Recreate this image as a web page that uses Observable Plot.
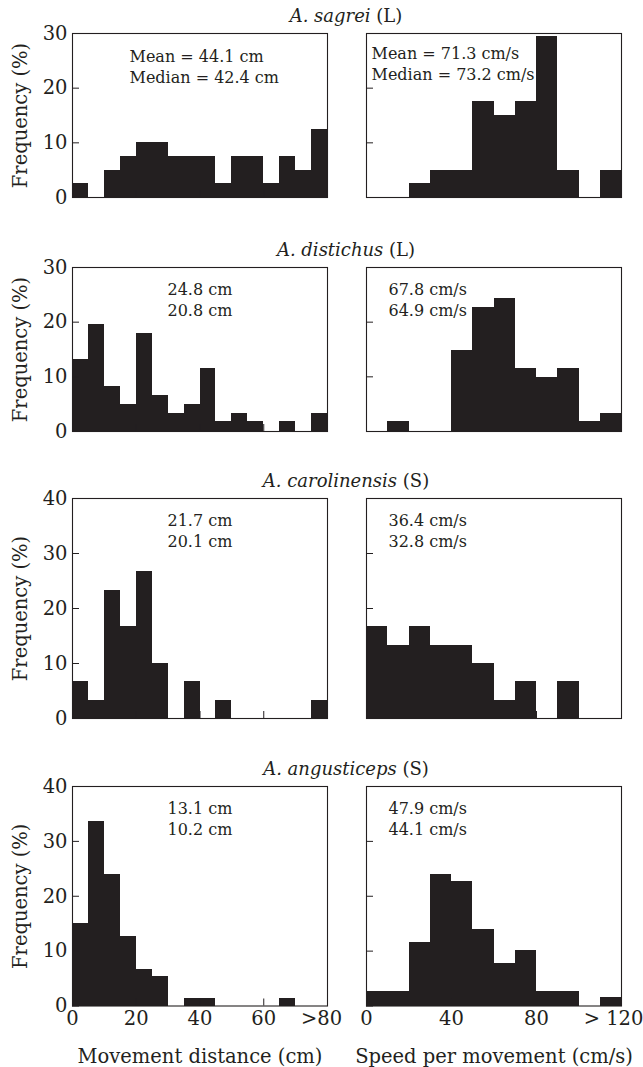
<!DOCTYPE html>
<html>
<head>
<meta charset="utf-8">
<script src="https://cdn.jsdelivr.net/npm/d3@7"></script>
<script src="https://cdn.jsdelivr.net/npm/@observablehq/plot@0.6"></script>
<style>
  body { margin: 0; background: #fff; }
  #chart { position: relative; width: 643px; height: 1067px; font-family: "DejaVu Serif", serif; color: #231f20; overflow: hidden; }
  #chart svg { position: absolute; overflow: visible; }
  .title { position: absolute; left: 0; width: 692px; text-align: center; font-size: 18px; line-height: 18px; white-space: nowrap; }
</style>
</head>
<body>
<div id="chart"></div>
<script>
// ---------- data ----------
const speciesNames = ["A. sagrei", "A. distichus", "A. carolinensis", "A. angusticeps"];
const habitats = ["L", "L", "S", "S"];

// movement distance bins (cm), width 5, last bin = ">75"
const distanceBinStarts = [0, 5, 10, 15, 20, 25, 30, 35, 40, 45, 50, 55, 60, 65, 70, 75];
const distanceBinWidth = 5;
// speed bins (cm/s), width 10
const speedBinStarts = [0, 10, 20, 30, 40, 50, 60, 70, 80, 90, 100, 110];
const speedBinWidth = 10;

// frequencies (%)
const sagreiDistance       = [2.5, 0, 5, 7.5, 10, 10, 7.5, 7.5, 7.5, 2.5, 7.5, 7.5, 2.5, 7.5, 5, 12.5];
const sagreiSpeed          = [0, 0, 2.5, 5, 5, 17.5, 15, 17.5, 29.4, 5, 0, 5];
const distichusDistance    = [13.1, 19.5, 8.2, 4.9, 17.9, 6.6, 3.3, 4.9, 11.5, 1.8, 3.3, 1.8, 0, 1.8, 0, 3.3];
const distichusSpeed       = [0, 1.8, 0, 0, 14.8, 22.7, 24.3, 11.5, 9.9, 11.5, 1.8, 3.3];
const carolinensisDistance = [6.7, 3.3, 23.3, 16.7, 26.7, 10, 0, 6.7, 0, 3.3, 0, 0, 0, 0, 0, 3.3];
const carolinensisSpeed    = [16.7, 13.3, 16.7, 13.3, 13.3, 10, 3.3, 6.7, 0, 6.7, 0, 0];
const angusticepsDistance  = [15.1, 33.7, 23.9, 12.6, 6.6, 5.3, 0, 1.3, 1.3, 0, 0, 0, 0, 1.3, 0, 0];
const angusticepsSpeed     = [2.6, 2.6, 11.5, 23.9, 22.6, 13.9, 7.7, 10.2, 2.6, 2.6, 0, 1.5];

// mean / median annotations
const sagreiDistanceStats       = ["Mean = 44.1 cm", "Median = 42.4 cm"];
const sagreiSpeedStats          = ["Mean = 71.3 cm/s", "Median = 73.2 cm/s"];
const distichusDistanceStats    = ["24.8 cm", "20.8 cm"];
const distichusSpeedStats       = ["67.8 cm/s", "64.9 cm/s"];
const carolinensisDistanceStats = ["21.7 cm", "20.1 cm"];
const carolinensisSpeedStats    = ["36.4 cm/s", "32.8 cm/s"];
const angusticepsDistanceStats  = ["13.1 cm", "10.2 cm"];
const angusticepsSpeedStats     = ["47.9 cm/s", "44.1 cm/s"];

// axes
const yMaxes = [30, 30, 40, 40];
const yTicks30 = [0, 10, 20, 30];
const yTicks40 = [0, 10, 20, 30, 40];
const distanceTicks = [0, 20, 40, 60, 80];
const distanceTickLabels = ["0", "20", "40", "60", ">80"];
const speedTicks = [0, 40, 80, 120];
const speedTickLabels = ["0", "40", "80", "> 120"];
const yTitle = "Frequency (%)";
const distanceTitle = "Movement distance (cm)";
const speedTitle = "Speed per movement (cm/s)";

// ---------- layout ----------
const ink = "#231f20";
const frameTops = [32.7, 266.7, 497.7, 785.7];
const frameHeights = [164, 164, 220, 219.5];

const distanceSeries = [sagreiDistance, distichusDistance, carolinensisDistance, angusticepsDistance];
const speedSeries = [sagreiSpeed, distichusSpeed, carolinensisSpeed, angusticepsSpeed];
const distanceStats = [sagreiDistanceStats, distichusDistanceStats, carolinensisDistanceStats, angusticepsDistanceStats];
const speedStats = [sagreiSpeedStats, distichusSpeedStats, carolinensisSpeedStats, angusticepsSpeedStats];

function makePanel(o) {
  const bins = o.values.map((v, j) => ({x1: o.starts[j], x2: o.starts[j] + o.binWidth, f: v}));
  const fmt = d => o.tickLabels[o.ticks.indexOf(d)];
  const marks = [
    Plot.rectY(bins, {x1: "x1", x2: "x2", y: "f", fill: ink, inset: 0, shapeRendering: "crispEdges"}),
    Plot.frame({stroke: ink, strokeWidth: 1.1}),
    Plot.axisY({
      ticks: o.yTicks, tickSize: -7, tickPadding: 12,
      tickFormat: o.yLabels ? d => String(d) : () => "",
      label: o.yLabels ? yTitle : null, labelAnchor: "center", labelOffset: 59, labelArrow: "none",
      fontSize: 19.5
    }),
    Plot.axisX({
      ticks: o.ticks.slice(0, -1), tickSize: -7, tickPadding: 12,
      tickFormat: o.showX ? fmt : () => "",
      label: o.showX ? o.xTitle : null, labelAnchor: "center", labelOffset: 57, labelArrow: "none",
      fontSize: 19.5
    }),
    Plot.axisX({
      ticks: o.ticks.slice(-1), tickSize: 0, tickPadding: 5, dx: o.lastDx,
      tickFormat: o.showX ? fmt : () => "", label: null, fontSize: 19.5
    }),
    Plot.text([o.stats.join("\n")], {
      text: d => d, frameAnchor: "top-left", textAnchor: "start", lineAnchor: "top",
      dx: o.statsDx, dy: o.statsDy, fontSize: 16, lineHeight: 1.31, fill: ink
    })
  ];
  const svg = Plot.plot({
    width: o.width,
    height: o.mt + o.frameH + o.mb,
    marginLeft: o.ml, marginRight: o.mr, marginTop: o.mt, marginBottom: o.mb,
    style: {fontFamily: "DejaVu Serif, serif", fontSize: "19.5px", color: ink, background: "none", overflow: "visible"},
    x: {domain: o.domain},
    y: {domain: [0, o.yMax]},
    marks
  });
  return svg;
}

const chart = document.getElementById("chart");
speciesNames.forEach((name, i) => {
  const top = frameTops[i];
  const h = frameHeights[i];
  const last = i === speciesNames.length - 1;
  const mt = 14, mb = last ? 62 : 14;
  const yT = yMaxes[i] === 30 ? yTicks30 : yTicks40;

  const t = document.createElement("div");
  t.className = "title";
  t.style.top = (top - 10.5 - 15.2) + "px";
  t.innerHTML = `<i>${name}</i> (${habitats[i]})`;
  chart.appendChild(t);

  const left = makePanel({
    values: distanceSeries[i], starts: distanceBinStarts, binWidth: distanceBinWidth,
    domain: [0, 80], ticks: distanceTicks, tickLabels: distanceTickLabels, lastDx: -6,
    yMax: yMaxes[i], yTicks: yT, yLabels: true,
    stats: distanceStats[i], statsDx: i === 0 ? 57 : 95, statsDy: i === 0 ? 14 : 12.6,
    frameH: h, mt, mb, ml: 72, mr: 8, width: 335, showX: last, xTitle: distanceTitle
  });
  left.style.left = "0px";
  left.style.top = (top - mt) + "px";
  chart.appendChild(left);

  const right = makePanel({
    values: speedSeries[i], starts: speedBinStarts, binWidth: speedBinWidth,
    domain: [0, 120], ticks: speedTicks, tickLabels: speedTickLabels, lastDx: -8,
    yMax: yMaxes[i], yTicks: yT, yLabels: false,
    stats: speedStats[i], statsDx: i === 0 ? 5 : 22, statsDy: i === 0 ? 10.5 : 12.6,
    frameH: h, mt, mb, ml: 26, mr: 14, width: 295, showX: last, xTitle: speedTitle
  });
  right.style.left = "340px";
  right.style.top = (top - mt) + "px";
  chart.appendChild(right);
});
</script>
</body>
</html>
